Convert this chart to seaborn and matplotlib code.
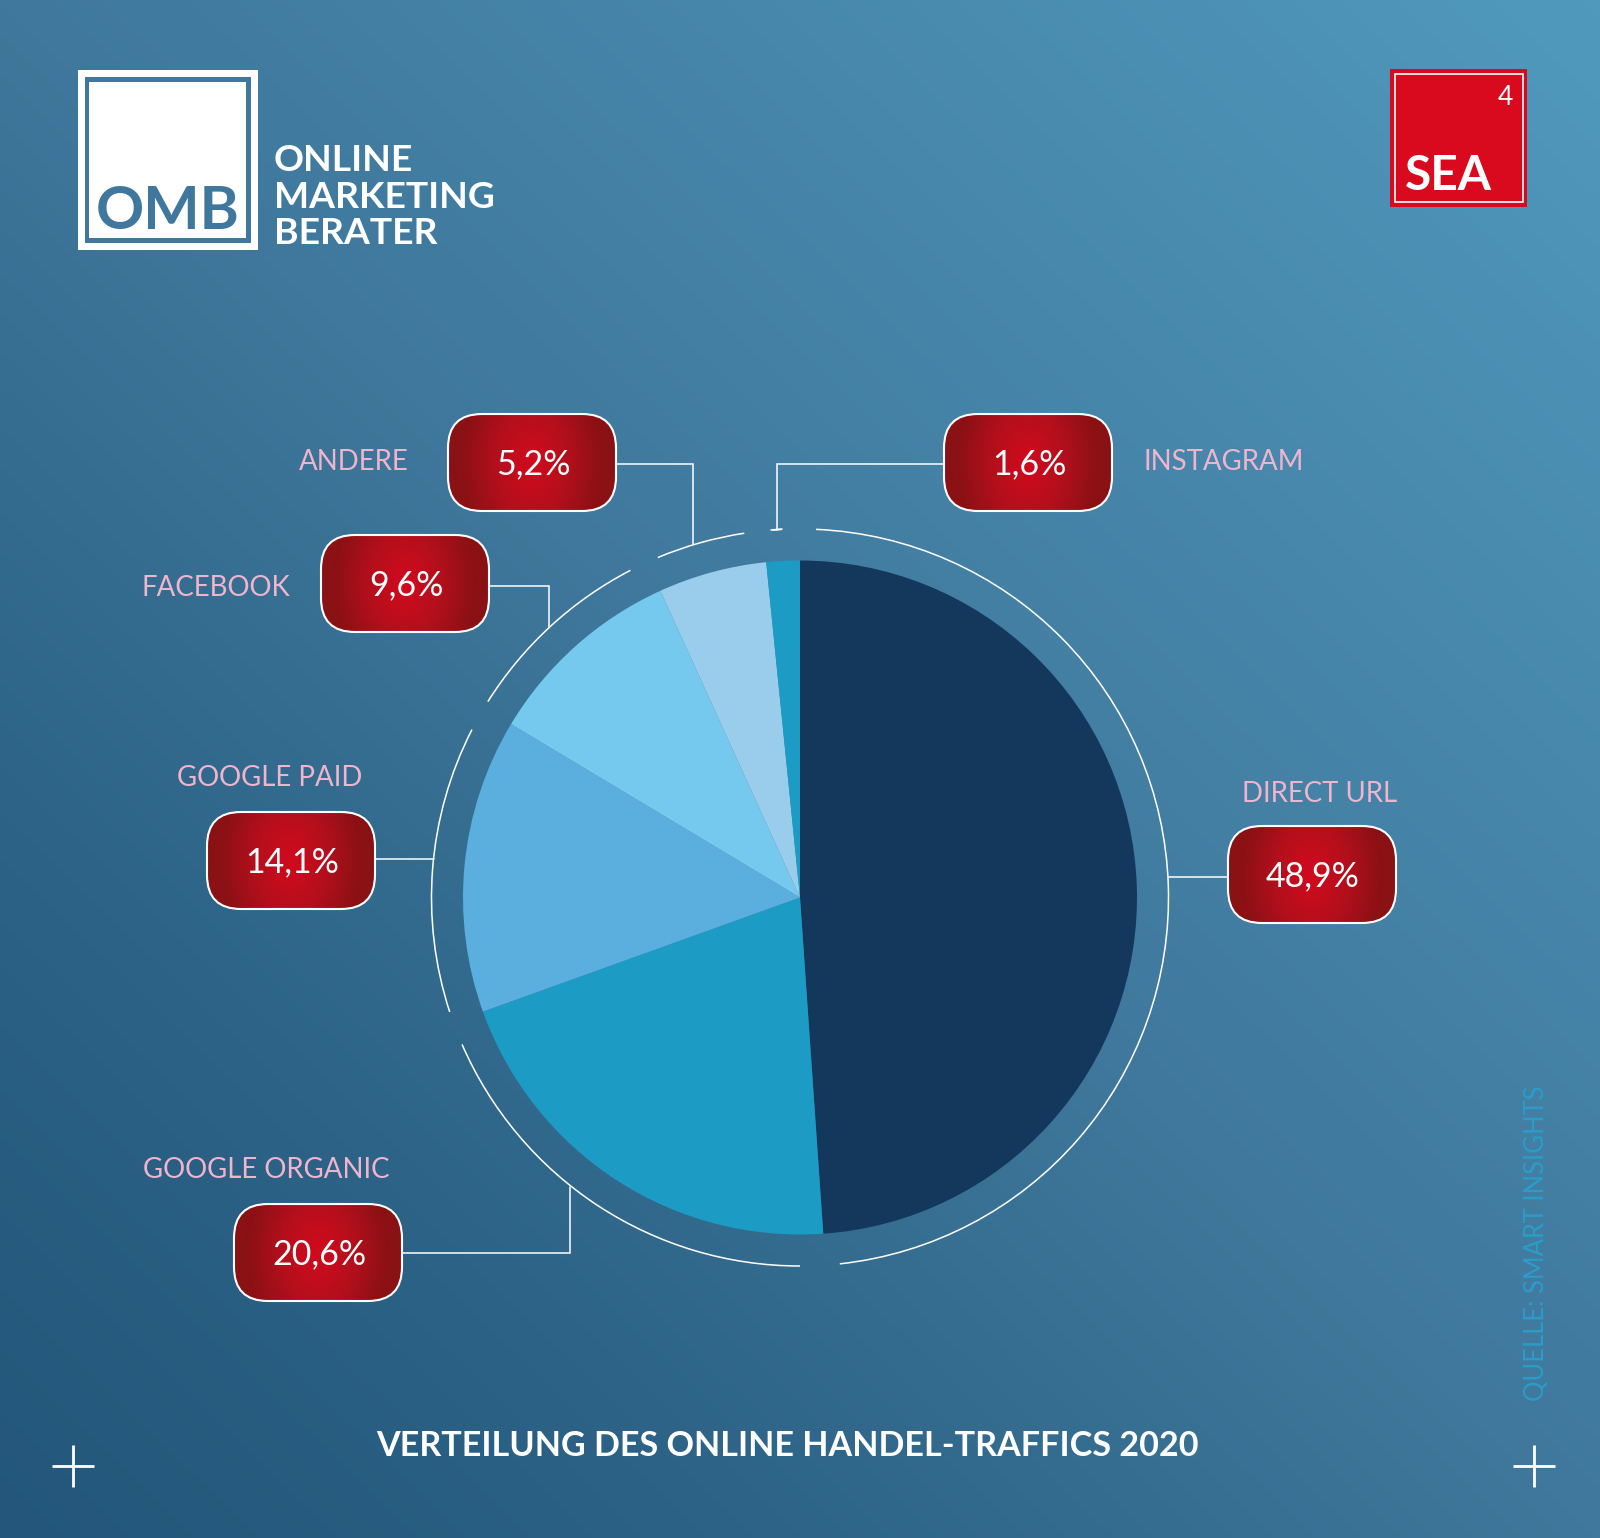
import numpy as np
import matplotlib
matplotlib.use("Agg")
import matplotlib.pyplot as plt
from matplotlib.colors import LinearSegmentedColormap
from matplotlib.patches import Arc, FancyBboxPatch, Rectangle
import seaborn as sns

categories = ["DIRECT URL", "GOOGLE ORGANIC", "GOOGLE PAID", "FACEBOOK", "ANDERE", "INSTAGRAM"]
values = [48.9, 20.6, 14.1, 9.6, 5.2, 1.6]
value_labels = ["48,9%", "20,6%", "14,1%", "9,6%", "5,2%", "1,6%"]
slice_colors = ["#14385C", "#1C9CC4", "#5BAFDF", "#76C9EE", "#9ACDEB", "#1C9CC4"]
title = "VERTEILUNG DES ONLINE HANDEL-TRAFFICS 2020"
source = "QUELLE: SMART INSIGHTS"

W, H = 1600, 1538
sns.set_theme(style="white")
plt.rcParams["font.family"] = ["Lato", "DejaVu Sans"]
palette = sns.color_palette(slice_colors)

fig = plt.figure(figsize=(W / 100, H / 100), dpi=100)
ax = fig.add_axes([0, 0, 1, 1])
ax.set_axis_off()

def Y(p):
    return H - p

# background
xx, yy = np.meshgrid(np.linspace(0, 1, 200), np.linspace(0, 1, 200))
bg = LinearSegmentedColormap.from_list(
    "bg", [(0, "#23567A"), (0.235, "#2C6386"), (0.5, "#3F789C"), (1, "#5099BD")])
ax.imshow((xx + yy) / 2, extent=(0, W, 0, H), origin="lower", cmap=bg, aspect="auto", zorder=0)

# pie
CX, CY, R = 800, 897.5, 337
ax.pie(values, colors=palette, startangle=90, counterclock=False, center=(CX, Y(CY)), radius=R,
       frame=True, wedgeprops=dict(linewidth=0, zorder=2))

# ring
RING = 368.5
ring_segments = [(2.5, 173.8), (180, 246.5), (251.9, 297.1), (302.1, 332.6), (337.3, 351.3), (355.7, 357.1)]
for a, b in ring_segments:
    ax.add_patch(Arc((CX, Y(CY)), 2 * RING, 2 * RING, theta1=90 - b, theta2=90 - a,
                     color="white", lw=1.1, zorder=3))

# callouts: box left, box top, label position, connector
callouts = {
    "ANDERE": (448, 414, (299, 459), [(616, 464), (693, 464), (693, 544)]),
    "FACEBOOK": (321, 535, (142, 585), [(489, 586), (549, 586), (549, 627)]),
    "INSTAGRAM": (944, 414, (1143, 460), [(944, 464), (777, 464), (777, 530)]),
    "GOOGLE PAID": (207, 812, (177, 776), [(375, 859), (434, 859)]),
    "DIRECT URL": (1228, 826, (1242, 791), [(1228, 877), (1169, 877)]),
    "GOOGLE ORGANIC": (234, 1204, (143, 1167), [(402, 1253), (570, 1253), (570, 1187)]),
}
bw, bh = 168, 97
rx = np.linspace(-1, 1, 80)
ry = np.linspace(-1, 1, 50)
gx, gy = np.meshgrid(rx, ry)
glow = np.clip(np.sqrt((gx / 0.85) ** 2 + (gy / 2.2) ** 2), 0, 1)
red = LinearSegmentedColormap.from_list("red", ["#D20A1E", "#B40F1C", "#8A1114"])
for name, lab in zip(categories, value_labels):
    bx, by, (lx, ly), conn = callouts[name]
    xs, ys = zip(*conn)
    ax.plot(xs, [Y(v) for v in ys], color="white", lw=1.1, zorder=3, solid_joinstyle="miter")
    patch = FancyBboxPatch((bx, Y(by + bh)), bw, bh, boxstyle="round,pad=0,rounding_size=34",
                           fc="none", ec="white", lw=1.5, zorder=5)
    ax.add_patch(patch)
    im = ax.imshow(glow, extent=(bx, bx + bw, Y(by + bh), Y(by)), cmap=red, vmin=0, vmax=1,
                   aspect="auto", zorder=4, interpolation="bilinear")
    im.set_clip_path(patch)
    ax.text(bx + bw / 2 + 1, Y(by + bh / 2 - 1), lab, color="white", fontsize=24.5, ha="center",
            va="center_baseline", zorder=6)
    ax.text(lx, Y(ly), name, color="#EFB5CD", fontsize=19.9, ha="left", va="center_baseline", zorder=6)
ax.plot([771, 782], [Y(530), Y(529)], color="white", lw=1.1, zorder=3)

# title, source
ax.text(787, Y(1443), title, color="white", fontsize=24.6, fontweight="bold", ha="center",
        va="center_baseline", zorder=6)
ax.text(1537, Y(1243), source, color="#2A9CCB", fontsize=18.4, rotation=90, ha="center", va="center", zorder=6)

# crosses
for cx in (73, 1534):
    ax.plot([cx - 21, cx + 21], [Y(1466), Y(1466)], color="white", lw=2, zorder=6, solid_capstyle="butt")
    ax.plot([cx, cx], [Y(1445), Y(1487)], color="white", lw=2, zorder=6, solid_capstyle="butt")

# OMB logo
def rect(x0, y0, x1, y1, col, z=6):
    ax.add_patch(Rectangle((x0, Y(y1)), x1 - x0, y1 - y0, fc=col, ec="none", zorder=z))
rect(78, 70, 258, 250, "white")
rect(85, 77, 251, 243, "#3F789C", 7)
rect(89, 82, 246, 238, "white", 8)
ax.text(168, Y(229), "OMB", color="#3F789C", fontsize=43, fontweight="bold", ha="center", va="baseline", zorder=9)
for word, yb in zip(["ONLINE", "MARKETING", "BERATER"], [171, 207.5, 244.5]):
    ax.text(274, Y(yb), word, color="white", fontsize=26.8, fontweight="bold", ha="left", va="baseline", zorder=6)

# SEA logo
rect(1390, 69, 1527, 207, "#DA0A1E")
ax.add_patch(Rectangle((1395, Y(202)), 128, 128, fc="none", ec="white", lw=1.2, zorder=7))
ax.text(1505, Y(105), "4", color="white", fontsize=19, ha="center", va="baseline", zorder=8)
ax.text(1405, Y(190), "SEA", color="white", fontsize=34.5, fontweight="bold", ha="left", va="baseline", zorder=8)

ax.set_xlim(0, W)
ax.set_ylim(0, H)
fig.savefig("out.png", dpi=100)
